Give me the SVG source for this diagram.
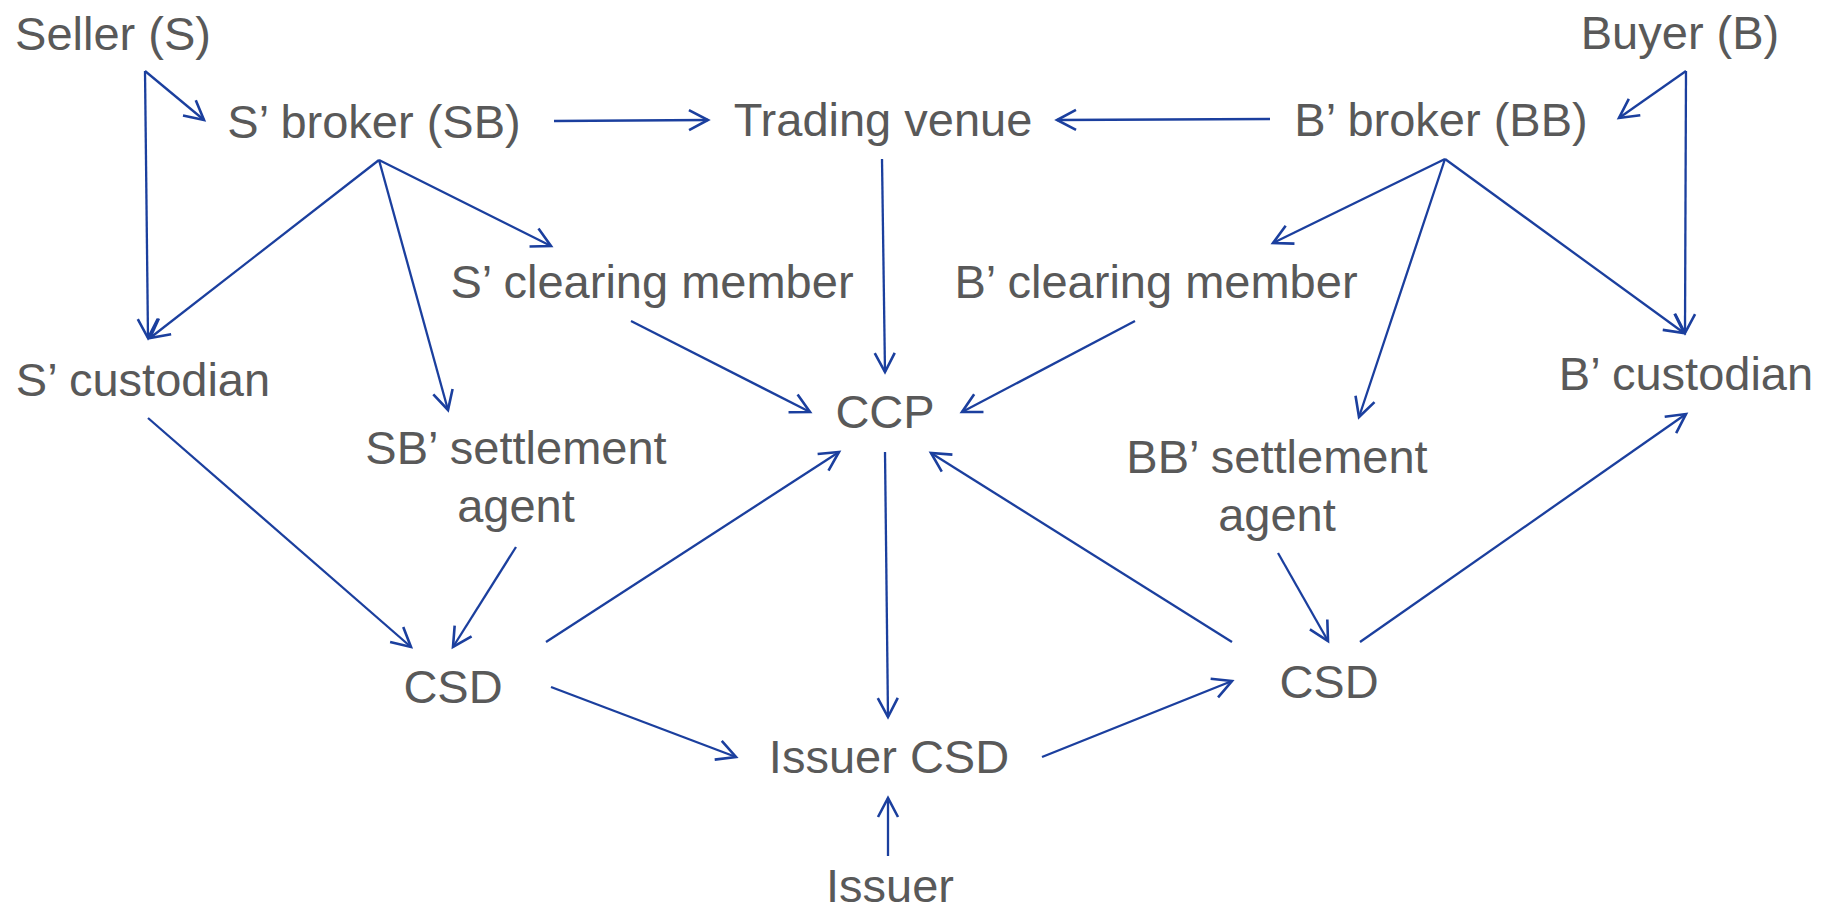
<svg xmlns="http://www.w3.org/2000/svg" width="1822" height="914" viewBox="0 0 1822 914">
<style>
  text { font-family: "Liberation Sans", Arial, sans-serif; font-size: 47px; fill: #595959; text-anchor: middle; }
  .c line { stroke: #1b3f9e; stroke-width: 2.3; fill: none; marker-end: url(#ah); }
</style>
<defs>
  <marker id="ah" markerUnits="userSpaceOnUse" markerWidth="40" markerHeight="40" viewBox="-20 -20 40 40" refX="0" refY="0" orient="auto" overflow="visible">
    <path d="M -19 -10 L 0 0 L -19 10" fill="none" stroke="#1b3f9e" stroke-width="2.6" stroke-linejoin="miter"/>
  </marker>
</defs>
<rect width="1822" height="914" fill="#ffffff"/>
<g id="connectors" class="c">
  <line x1="145" y1="71" x2="204" y2="120"/>
  <line x1="145" y1="71" x2="148" y2="338"/>
  <line x1="379" y1="160" x2="150" y2="338"/>
  <line x1="379" y1="160" x2="448" y2="410"/>
  <line x1="379" y1="160" x2="551" y2="246"/>
  <line x1="554" y1="121" x2="708" y2="120"/>
  <line x1="1270" y1="119" x2="1057" y2="120"/>
  <line x1="882" y1="159" x2="885" y2="372"/>
  <line x1="1686" y1="71" x2="1619" y2="118"/>
  <line x1="1686" y1="71" x2="1685" y2="333"/>
  <line x1="1445" y1="159" x2="1273" y2="243"/>
  <line x1="1445" y1="159" x2="1359" y2="417"/>
  <line x1="1445" y1="159" x2="1684" y2="333"/>
  <line x1="631" y1="321" x2="810" y2="412"/>
  <line x1="1135" y1="321" x2="962" y2="412"/>
  <line x1="148" y1="418" x2="411" y2="647"/>
  <line x1="516" y1="547" x2="453" y2="647"/>
  <line x1="546" y1="642" x2="839" y2="452"/>
  <line x1="885" y1="452" x2="888" y2="717"/>
  <line x1="1232" y1="642" x2="931" y2="453"/>
  <line x1="1278" y1="553" x2="1328" y2="641"/>
  <line x1="1360" y1="642" x2="1686" y2="414"/>
  <line x1="551" y1="687" x2="736" y2="757"/>
  <line x1="1042" y1="757" x2="1232" y2="681"/>
  <line x1="888" y1="856" x2="888" y2="798"/>
</g>
<g id="seller"><text x="113" y="50">Seller (S)</text></g>
<g id="s-broker"><text x="374" y="138">S’ broker (SB)</text></g>
<g id="trading-venue"><text x="883" y="136">Trading venue</text></g>
<g id="b-broker"><text x="1441" y="136">B’ broker (BB)</text></g>
<g id="buyer"><text x="1680" y="49">Buyer (B)</text></g>
<g id="s-clearing-member"><text x="652" y="298">S’ clearing member</text></g>
<g id="b-clearing-member"><text x="1156" y="298">B’ clearing member</text></g>
<g id="s-custodian"><text x="143" y="396">S’ custodian</text></g>
<g id="sb-settlement-agent"><text x="516" y="464">SB’ settlement</text><text x="516" y="522">agent</text></g>
<g id="ccp"><text x="885" y="428">CCP</text></g>
<g id="bb-settlement-agent"><text x="1277" y="473">BB’ settlement</text><text x="1277" y="531">agent</text></g>
<g id="b-custodian"><text x="1686" y="390">B’ custodian</text></g>
<g id="csd-left"><text x="453" y="703">CSD</text></g>
<g id="csd-right"><text x="1329" y="698">CSD</text></g>
<g id="issuer-csd"><text x="889" y="773">Issuer CSD</text></g>
<g id="issuer"><text x="890" y="902">Issuer</text></g>
</svg>
